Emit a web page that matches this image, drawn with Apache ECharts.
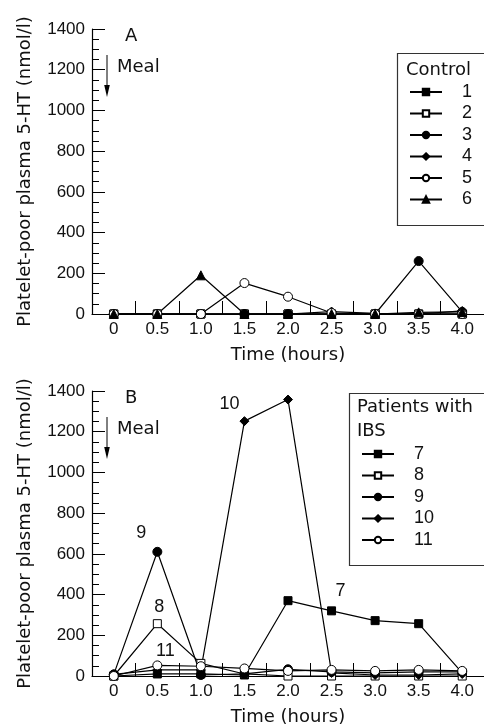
<!DOCTYPE html>
<html><head><meta charset="utf-8">
<script src="https://cdn.jsdelivr.net/npm/echarts@6/dist/echarts.min.js"></script>
<style>html,body{margin:0;padding:0;background:#fff}#c{width:484px;height:725px}</style>
</head><body><div id="c"></div>
<script>
// ---------- data ----------
const times = ['0', '0.5', '1.0', '1.5', '2.0', '2.5', '3.0', '3.5', '4.0'];
const yMin = 0, yMax = 1400, yStep = 200;

const controlNames = ['1', '2', '3', '4', '5', '6'];
const control1 = [0, 0, 0, 0, 0, 0, 0, 0, 0];
const control2 = [0, 0, 0, 0, 0, 0, 0, 0, 0];
const control3 = [0, 0, 0, 0, 0, 0, 0, 260, 10];
const control4 = [0, 0, 0, 0, 0, 12, 3, 0, 15];
const control5 = [0, 0, 0, 152, 85, 5, 0, 0, 0];
const control6 = [0, 0, 190, 0, 0, 0, 0, 8, 10];

const patientNames = ['7', '8', '9', '10', '11'];
const patient7 = [0, 10, 10, 5, 370, 320, 272, 257, 15];
const patient8 = [0, 257, 62, 10, 0, 0, 0, 0, 0];
const patient9 = [8, 610, 5, 10, 33, 20, 15, 20, 20];
const patient10 = [8, 30, 30, 1252, 1358, 15, 5, 5, 10];
const patient11 = [0, 52, 48, 37, 25, 30, 25, 30, 25];

// annotated point per patient series (time index)
const patientLabelIndex = { '7': 5, '8': 1, '9': 1, '10': 3, '11': 1 };

// ---------- styles ----------
const NUMF = 'Liberation Sans, Arial, sans-serif';
const WORDF = 'DejaVu Sans, sans-serif';
const INK = '#111';
const G1 = { left: 92, top: 29, width: 392, height: 285 };
const G2 = { left: 92, top: 391, width: 392, height: 285 };

const markerStyles = {
  '1': { symbol: 'rect', size: 8, fill: '#000' },
  '2': { symbol: 'rect', size: 8, fill: '#fff' },
  '3': { symbol: 'circle', size: 9, fill: '#000' },
  '4': { symbol: 'diamond', size: 9, fill: '#000' },
  '5': { symbol: 'circle', size: 9, fill: '#fff' },
  '6': { symbol: 'triangle', size: 9, fill: '#000' },
  '7': { symbol: 'rect', size: 8, fill: '#000' },
  '8': { symbol: 'rect', size: 8, fill: '#fff' },
  '9': { symbol: 'circle', size: 9, fill: '#000' },
  '10': { symbol: 'diamond', size: 9, fill: '#000' },
  '11': { symbol: 'circle', size: 9, fill: '#fff' }
};
const labelOffsets = { '7': [9, -20], '8': [2, -17], '9': [-16, -19], '10': [-15, -17], '11': [8, -14] };

function makeSeries(name, values, gridIdx, labelIdx) {
  const m = markerStyles[name];
  const data = values.map((v, i) => {
    if (labelIdx === i) {
      return {
        value: v,
        label: {
          show: true, position: 'inside', formatter: name, offset: labelOffsets[name],
          color: INK, fontFamily: NUMF, fontSize: 18
        }
      };
    }
    return v;
  });
  return {
    type: 'line', name: name, xAxisIndex: gridIdx, yAxisIndex: gridIdx,
    data: data, symbol: m.symbol, symbolSize: m.size, showSymbol: true, showAllSymbol: true,
    lineStyle: { color: '#000', width: 1.2 },
    itemStyle: { color: m.fill, borderColor: '#000', borderWidth: 1 },
    emphasis: { disabled: true }, z: 3
  };
}

const series = [];
[control1, control2, control3, control4, control5, control6].forEach((v, i) =>
  series.push(makeSeries(controlNames[i], v, 0, -1)));
[patient7, patient8, patient9, patient10, patient11].forEach((v, i) =>
  series.push(makeSeries(patientNames[i], v, 1, patientLabelIndex[patientNames[i]])));

function xAxis(gridIndex) {
  return {
    type: 'category', gridIndex: gridIndex, data: times, boundaryGap: true,
    name: 'Time (hours)', nameLocation: 'middle', nameGap: 32,
    nameTextStyle: { fontFamily: WORDF, fontSize: 18, color: INK },
    axisLine: { show: true, lineStyle: { color: '#000', width: 1.2 } },
    axisTick: { show: true, inside: true, length: 13, alignWithLabel: false, interval: 0, lineStyle: { color: '#000' } },
    axisLabel: { interval: 0, margin: 7, fontFamily: NUMF, fontSize: 17, color: INK },
    splitLine: { show: false }
  };
}
function yAxis(gridIndex) {
  return {
    type: 'value', gridIndex: gridIndex, min: yMin, max: yMax, interval: yStep,
    name: 'Platelet-poor plasma 5-HT (nmol/l)', nameLocation: 'middle', nameGap: 58,
    nameTextStyle: { fontFamily: WORDF, fontSize: 18, color: INK },
    axisLine: { show: true, lineStyle: { color: '#000', width: 1.2 } },
    axisTick: { show: true, inside: true, length: 13, lineStyle: { color: '#000' } },
    minorTick: { show: true, splitNumber: 4, length: 7, lineStyle: { color: '#000' } },
    axisLabel: { margin: 7, fontFamily: NUMF, fontSize: 17, color: INK, formatter: v => String(v) },
    splitLine: { show: false }, minorSplitLine: { show: false }
  };
}

function legend(names, left, top) {
  return {
    data: names, orient: 'vertical', left: left, top: top, padding: 0,
    itemWidth: 32, itemHeight: 8, itemGap: 3.5, selectedMode: false,
    formatter: '{t|{name}}',
    textStyle: { rich: { t: { fontFamily: NUMF, fontSize: 18, color: INK, lineHeight: 20, padding: [0, 0, 0, 15] } } }
  };
}

function panelGraphics(G, letter, box, titles) {
  const ax = G.left + 15;
  const els = [
    { type: 'text', left: G.left + 33, top: G.top - 2, style: { text: letter, font: '18px ' + WORDF, fill: INK } },
    { type: 'text', left: G.left + 25, top: G.top + 29, style: { text: 'Meal', font: '18px ' + WORDF, fill: INK } },
    { type: 'line', shape: { x1: ax, y1: G.top + 26, x2: ax, y2: G.top + 60 }, style: { stroke: '#000', lineWidth: 1 } },
    { type: 'polygon', shape: { points: [[ax - 2.8, G.top + 56], [ax + 2.8, G.top + 56], [ax, G.top + 68]] }, style: { fill: '#000' } },
    { type: 'rect', shape: { x: box.x, y: box.y, width: 200, height: box.h }, style: { fill: 'none', stroke: '#333', lineWidth: 1.2 } }
  ];
  titles.forEach((t) => els.push({
    type: 'text', left: t.x, top: t.y, style: { text: t.text, font: '18px ' + WORDF, fill: INK }
  }));
  return els;
}

const chart = echarts.init(document.getElementById('c'), null, { renderer: 'canvas' });
chart.setOption({
  animation: false,
  backgroundColor: '#fff',
  grid: [
    { left: G1.left, top: G1.top, width: G1.width, height: G1.height, containLabel: false, outerBoundsMode: 'none' },
    { left: G2.left, top: G2.top, width: G2.width, height: G2.height, containLabel: false, outerBoundsMode: 'none' }
  ],
  xAxis: [xAxis(0), xAxis(1)],
  yAxis: [yAxis(0), yAxis(1)],
  legend: [legend(controlNames, 409, 83), legend(patientNames, 361, 445)],
  graphic: [].concat(
    panelGraphics(G1, 'A', { x: 397.5, y: 53.5, h: 172 }, [{ text: 'Control', x: 406, y: 61 }]),
    panelGraphics(G2, 'B', { x: 349.5, y: 393.5, h: 172 }, [{ text: 'Patients with', x: 357, y: 398 }, { text: 'IBS', x: 357, y: 422 }])
  ),
  series: series
});
</script></body></html>
